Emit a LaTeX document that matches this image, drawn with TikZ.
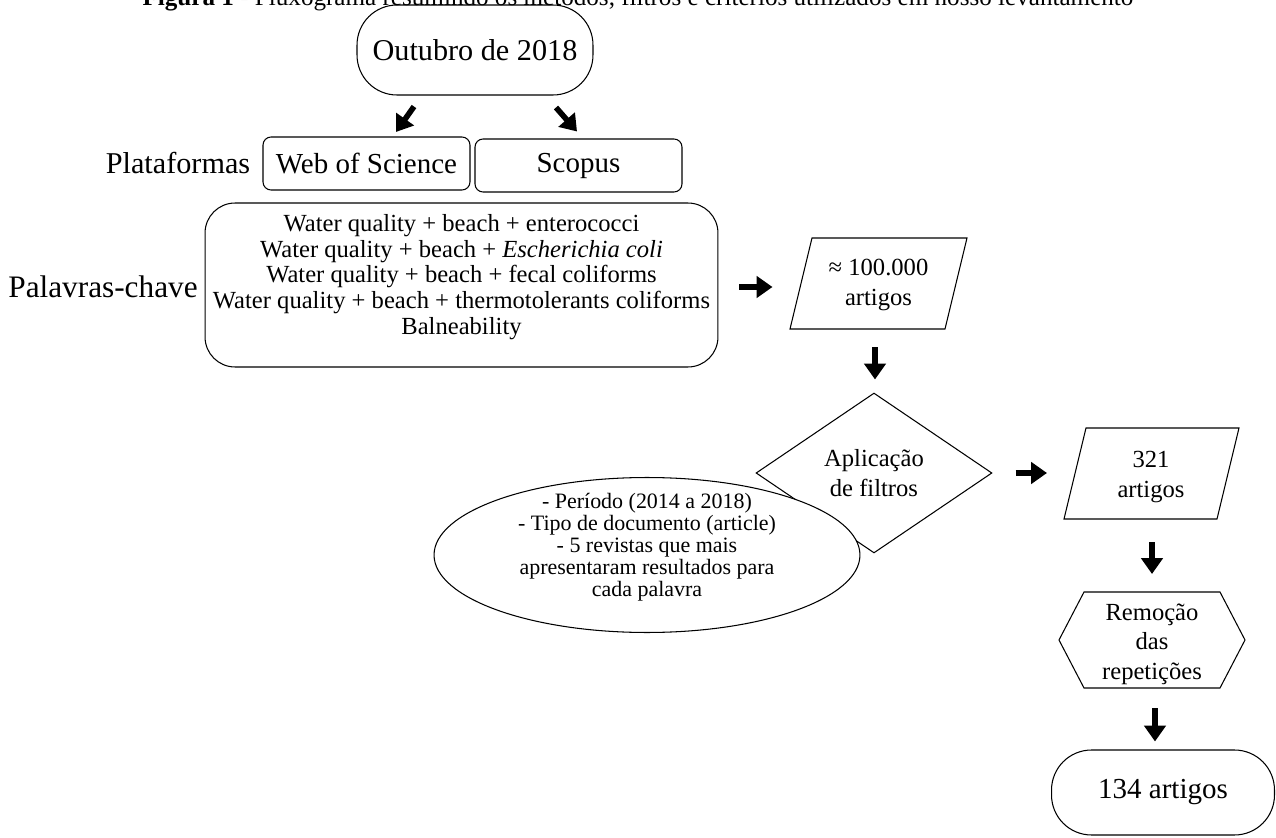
\documentclass[tikz,border=0pt]{standalone}
\usepackage{fontspec}
\setmainfont{Liberation Serif}
\usetikzlibrary{shapes.geometric,arrows.meta}

\tikzset{
    caixa/.style={draw,line width=0.6pt,align=center,inner sep=0pt},
    texto/.style={align=center,inner sep=0pt},
    contorno/.style={line width=0.6pt},
    seta/.style={line width=3.2pt,-{Triangle[length=9pt,width=12pt]}},
}

\begin{document}
\begin{tikzpicture}[x=0.02cm,y=-0.02cm]
    \providecommand{\fontetitulo}{\fontsize{14.3}{16}\selectfont}
    \providecommand{\fontegrande}{\fontsize{16.5}{19}\selectfont}
    \providecommand{\fonterotulo}{\fontsize{17.2}{19}\selectfont}
    \providecommand{\fontemedia}{\fontsize{14}{16.8}\selectfont}
    \providecommand{\fontechave}{\fontsize{14}{14.6}\selectfont}
    \providecommand{\fontelipse}{\fontsize{12.5}{12.6}\selectfont}
    \useasboundingbox (0,0) rectangle (1276,838);
    % legenda (cortada pela borda)
    \node[anchor=base,inner sep=0pt,font=\fontetitulo] (titulo) at (638,6)
        {\textbf{Figura 1} - Fluxograma resumindo os métodos, filtros e critérios utilizados em nosso levantamento};
    \node[caixa,rounded corners=0.8cm,minimum width=4.72cm,minimum height=1.8cm,font=\fonterotulo] (outubro) at (475,50) {Outubro de 2018};
    \node[texto,font=\fonterotulo] (plataformas) at (178,163) {Plataformas};
    \node[caixa,rounded corners=0.16cm,minimum width=4.14cm,minimum height=1.06cm,font=\fontegrande] (wos) at (366.5,163.5) {Web of Science};
    \node[caixa,rounded corners=0.16cm,minimum width=4.14cm,minimum height=1.06cm,font=\fontegrande] (scopus) at (578.5,165.5) {Scopus};
    \node[texto,font=\fontsize{17.8}{19}\selectfont] (palavras) at (103,287) {Palavras-chave};
    \node[caixa,rounded corners=0.6cm,minimum width=10.26cm,minimum height=3.28cm] (chaves) at (461.5,285) {};
    \node[texto,font=\fontechave] (chavestexto) at ([shift={(0,-8)}]chaves.center)
        {Water quality + beach + enterococci\\
         Water quality + beach + \textit{Escherichia coli}\\
         Water quality + beach + fecal coliforms\\
         Water quality + beach + thermotolerants coliforms\\
         Balneability};
    \node[texto,font=\fontemedia] (cem) at (878.5,285) {≈ 100.000\\artigos};
    \draw[contorno] ([shift={(-66.5,-47)}]cem.center) -- ++(155,0) -- ++(-22,91) -- ++(-155,0) -- cycle;
    \node[caixa,diamond,minimum width=4.72cm,minimum height=3.2cm,font=\fontemedia] (filtros) at (874,473) {Aplicação\\de filtros};
    \node[caixa,ellipse,fill=white,minimum width=8.52cm,minimum height=3.1cm] (criterios) at (647,555) {};
    \node[texto,font=\fontelipse] (criteriostexto) at ([shift={(0,-8)}]criterios.center)
        {- Período (2014 a 2018)\\
         - Tipo de documento (article)\\
         - 5 revistas que mais\\
         apresentaram resultados para\\
         cada palavra};
    \node[texto,font=\fontemedia] (artigos) at (1151,477) {321\\artigos};
    \draw[contorno] ([shift={(-65,-49)}]artigos.center) -- ++(153,0) -- ++(-22,91) -- ++(-153,0) -- cycle;
    \node[texto,font=\fontemedia] (remocao) at (1152,644) {Remoção\\das\\repetições};
    \draw[contorno] ([shift={(-68,-52)}]remocao.center) -- ++(136,0) -- ++(25,48) -- ++(-25,48) -- ++(-136,0) -- ++(-25,-48) -- cycle;
    \node[caixa,rounded corners=0.8cm,minimum width=4.46cm,minimum height=1.7cm,font=\fontegrande] (final) at (1163,792.5) {134 artigos};
    % setas
    \draw[seta] ([shift={(-61,11)}]outubro.south) -- ([shift={(29.5,-4.5)}]wos.north);
    \draw[seta] ([shift={(81,12)}]outubro.south) -- ([shift={(-1.5,-7)}]scopus.north);
    \draw[seta] ([shift={(21,2)}]chaves.east) -- ([shift={(-106,2)}]cem.center);
    \draw[seta] ([shift={(-3.5,62)}]cem.center) -- ([shift={(1,-13)}]filtros.north);
    \draw[seta] ([shift={(23,0)}]filtros.east) -- ([shift={(-104,-4)}]artigos.center);
    \draw[seta] ([shift={(1,65)}]artigos.center) -- ([shift={(0,-70)}]remocao.center);
    \draw[seta] ([shift={(3,64)}]remocao.center) -- ([shift={(-8,-8)}]final.north);
\end{tikzpicture}
\end{document}
